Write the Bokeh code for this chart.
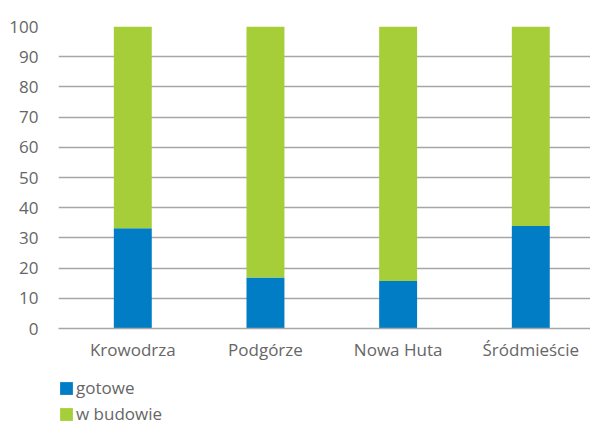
from bokeh.plotting import figure
from bokeh.layouts import column
from bokeh.models import ColumnDataSource, Range1d, FixedTicker, Legend, LegendItem
from bokeh.embed import file_html
from bokeh.resources import INLINE

districts = ["Krowodrza", "Podgórze", "Nowa Huta", "Śródmieście"]
gotowe = [33.2, 16.9, 15.7, 33.9]
w_budowie = [100 - v for v in gotowe]
series_names = ["gotowe", "w budowie"]
colors = ["#007DC5", "#A6CE39"]
y_ticks = list(range(0, 101, 10))

xs = list(range(len(districts)))
source = ColumnDataSource(dict(x=xs, gotowe=gotowe, w_budowie=w_budowie))

font = "Open Sans"
label_color = "#666666"
fs = "17px"

p = figure(width=590, height=363, output_backend="svg", toolbar_location=None,
           x_range=Range1d(-0.56, 3.45), y_range=Range1d(0, 100),
           min_border_left=58, min_border_right=0, min_border_top=26, min_border_bottom=35)
p.outline_line_color = None

renderers = p.vbar_stack(["gotowe", "w_budowie"], x="x", width=0.286, color=colors,
                         source=source, line_color=None)

p.xaxis.ticker = FixedTicker(ticks=xs)
p.xaxis.major_label_overrides = {i: d for i, d in enumerate(districts)}
p.xaxis.major_tick_line_color = None
p.xaxis.minor_tick_line_color = None
p.xaxis.axis_line_color = "#A6A6A6"
p.xaxis.axis_line_width = 1.5
p.xaxis.major_label_text_font = font
p.xaxis.major_label_text_font_size = fs
p.xaxis.major_label_text_color = label_color
p.xaxis.major_label_standoff = 3

p.yaxis.ticker = FixedTicker(ticks=y_ticks)
p.yaxis.axis_line_color = None
p.yaxis.major_tick_line_color = None
p.yaxis.minor_tick_line_color = None
p.yaxis.major_label_text_font = font
p.yaxis.major_label_text_font_size = fs
p.yaxis.major_label_text_color = label_color
p.yaxis.major_label_standoff = 14

p.xgrid.grid_line_color = None
p.ygrid.ticker = FixedTicker(ticks=y_ticks)
p.ygrid.grid_line_color = "#A6A6A6"
p.ygrid.grid_line_width = 1.5

# legend panel
lg = figure(width=590, height=64, output_backend="svg", toolbar_location=None,
            x_range=Range1d(0, 1), y_range=Range1d(0, 1),
            min_border_left=50, min_border_right=0, min_border_top=13, min_border_bottom=0,
            x_axis_location=None, y_axis_location=None)
lg.outline_line_color = None
lg.xgrid.visible = False
lg.ygrid.visible = False
# zero-height bars: only used to carry the legend swatches
swatch_src = ColumnDataSource(dict(x=[0.5], top=[0]))
lg_renderers = [lg.vbar(x="x", top="top", width=0.1, source=swatch_src,
                        fill_color=c, line_color=None) for c in colors]

legend = Legend(items=[LegendItem(label=n, renderers=[r]) for n, r in zip(series_names, lg_renderers)],
                location="top_left", orientation="vertical",
                glyph_width=16, glyph_height=16, label_standoff=2, spacing=3,
                padding=0, margin=0, border_line_color=None, background_fill_alpha=0,
                label_text_font=font, label_text_font_size=fs, label_text_color=label_color,
                label_height=20)
lg.add_layout(legend, "center")

layout = column(p, lg, spacing=0)
open("out.html", "w").write(file_html(layout, INLINE))
